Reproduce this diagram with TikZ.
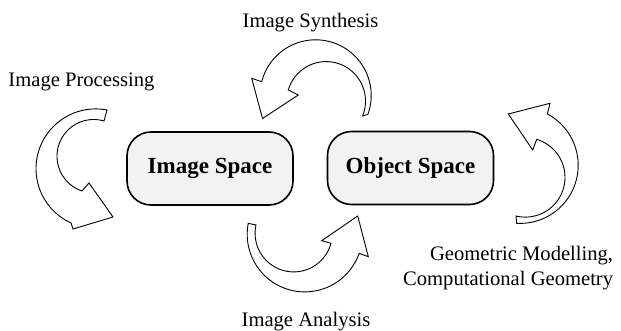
\documentclass[tikz,border=0pt]{standalone}
\usepackage{fontspec}
\setmainfont{Liberation Serif}
\definecolor{boxfill}{HTML}{F2F2F2}
\tikzset{
  spacebox/.style={draw, line width=1.6pt, rounded corners=24pt, fill=boxfill,
    minimum width=166pt, minimum height=73pt, inner sep=0pt,
    font=\bfseries\fontsize{23}{27}\selectfont},
  lbl/.style={inner sep=0pt, font=\fontsize{20.6}{25}\selectfont},
  circarrow/.style={draw, line width=0.9pt, fill=white, line join=miter}
}
\begin{document}
\begin{tikzpicture}[x=1pt, y=-1pt]
\useasboundingbox (0,0) rectangle (621,331);

% boxes
\node[spacebox] (img) at (210,168.5) {Image Space};
\node[spacebox] (obj) at (410.5,168) {Object Space};

% labels
\node[lbl, anchor=base] (synth) at (310.5,28) {Image Synthesis};
\node[lbl, anchor=base west] (proc) at (8.3,86.7) {Image Processing};
\node[lbl, anchor=base] (anal) at (306,326.7) {Image Analysis};
\node[lbl, anchor=north east, align=right] (geom) at (613.3,246) {Geometric Modelling,\\Computational Geometry};

% left arrow (image processing)
\draw[circarrow]
  plot[domain=-79.1:-245.6, samples=60] ({95.7+59.7*cos(\x)},{168.6+59.7*sin(\x)})
  -- (73,229) -- (113,217) -- (89,183)
  -- plot[domain=-251.4:-73.7, samples=60] ({93.7+36.7*cos(\x)},{156.2+36.7*sin(\x)})
  -- cycle;

% top arrow (image synthesis)
\draw[circarrow]
  plot[domain=20:-165.7, samples=60] ({315.6+55.6*cos(\x)},{95.4+55.6*sin(\x)})
  -- (251.7,78.3) -- (262.5,118.5) -- (298.3,95)
  -- plot[domain=-163.8:22.3, samples=60] ({326.1+39.4*cos(\x)},{101+39.4*sin(\x)})
  -- cycle;

% bottom arrow (image analysis)
\draw[circarrow]
  plot[domain=191:19.3, samples=60] ({304.8+57.6*cos(\x)},{234.3+57.6*sin(\x)})
  -- (368.3,256.7) -- (357.7,216) -- (321.7,240.7)
  -- plot[domain=15:192.4, samples=60] ({293.7+38.6*cos(\x)},{233.3+38.6*sin(\x)})
  -- cycle;

% right arrow (geometric modelling)
\draw[circarrow]
  plot[domain=93.4:-62.1, samples=60] ({520.1+58.1*cos(\x)},{165.3+58.1*sin(\x)})
  -- (550,103.3) -- (508.3,114) -- (532.7,150)
  -- plot[domain=-73.3:103.5, samples=60] ({525.3+39.7*cos(\x)},{177.4+39.7*sin(\x)})
  -- cycle;
\end{tikzpicture}
\end{document}
